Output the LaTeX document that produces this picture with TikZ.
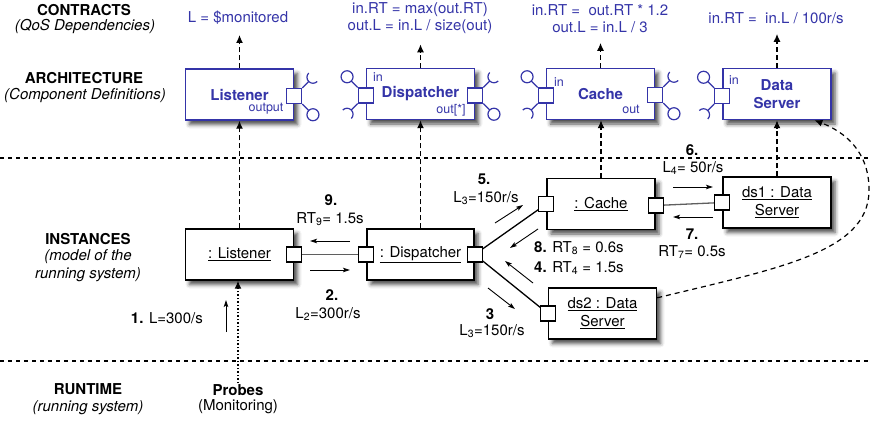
\documentclass[tikz,border=0pt]{standalone}
\usepackage{fontspec}
\setmainfont{TeX Gyre Heros}
\usetikzlibrary{arrows.meta,shadows.blur,backgrounds}
\definecolor{archblue}{RGB}{52,52,168}
\definecolor{linkgray}{RGB}{95,95,95}

% interface symbols hung on a port square: provided (ball) and required (socket)
\newcommand\provR[1]{\draw[iface] (#1.south east) -- ++(6.4,6.4) ++(4.24,4.24) circle[radius=6];}
\newcommand\provL[1]{\draw[iface] (#1.north west) -- ++(-6.4,-6.4) ++(-4.24,-4.24) circle[radius=6];}
\newcommand\reqR[1]{\draw[iface] (#1.north east) -- ++(6.4,-6.4) ++(8.49,0) arc[start angle=45,end angle=225,radius=6];}
\newcommand\reqL[1]{\draw[iface] (#1.south west) -- ++(-6.4,6.4) ++(-8.49,0) arc[start angle=225,end angle=405,radius=6];}

\begin{document}
\begin{tikzpicture}[x=1pt,y=-1pt,
  font=\fontsize{15}{18}\selectfont,
  txt/.style={inner sep=1pt, align=center},
  ctr/.style={txt, text=archblue, font=\fontsize{15}{17}\selectfont},
  small/.style={txt, text=archblue, font=\fontsize{12.5}{14}\selectfont},
  shad/.style={blur shadow={shadow xshift=4pt, shadow yshift=-4.5pt, shadow blur radius=4pt, shadow opacity=70}},
  archbox/.style={draw=archblue, text=archblue, font=\fontsize{15}{18}\selectfont\bfseries, align=center,
    line width=1.4pt, fill=white, minimum width=108pt, minimum height=51pt, inner sep=0pt, shad},
  instbox/.style={draw=black, line width=1.4pt, fill=white, align=center,
    minimum width=108pt, minimum height=51pt, inner sep=0pt, shad},
  port/.style={draw=black, fill=white, line width=1.2pt, minimum size=15pt, inner sep=0pt},
  archport/.style={port, draw=archblue},
  iface/.style={draw=archblue, line width=1.2pt},
  dep/.style={line width=1.4pt, dash pattern=on 5pt off 3pt, -{Latex[length=8pt,width=7pt]}},
  layer/.style={line width=1.8pt, dash pattern=on 3.5pt off 4.5pt},
  probe/.style={line width=1.4pt, dash pattern=on 1.5pt off 2pt, -{Latex[length=8pt,width=7pt]}},
  stepar/.style={line width=0.9pt, -{Stealth[length=7pt,width=4.5pt,inset=1.5pt]}},
  link/.style={line width=1.3pt},
]
\useasboundingbox (0,0) rectangle (870,421);

% layer separators
\draw[layer] (0,158) -- (870,158);
\draw[layer] (0,361) -- (870,361);

% layer titles
\node[txt] (tcon) at (84,10) {\bfseries CONTRACTS};
\node[txt] (tcon2) at (85,26) {\itshape (QoS Dependencies)};
\node[txt] (tarch) at (84,78) {\bfseries ARCHITECTURE};
\node[txt] (tarch2) at (85,95) {\itshape (Component Definitions)};
\node[txt] (tinst) at (88,239) {\bfseries INSTANCES};
\node[txt] (tinst2) at (88,257) {\itshape (model of the};
\node[txt] (tinst3) at (88,275) {\itshape running system)};
\node[txt] (trun) at (88,389) {\bfseries RUNTIME};
\node[txt] (trun2) at (88,408) {\itshape (running system)};

% contracts
\node[ctr] (clist) at (238,18) {L = \$monitored};
\node[ctr] (cdisp) at (420,18.5) {in.RT = max(out.RT)\\out.L = in.L / size(out)};
\node[ctr] (ccache) at (600,18.5) {in.RT = \ out.RT * 1.2\\out.L = in.L / 3};
\node[ctr] (cds) at (776,18) {in.RT = \ in.L / 100r/s};

% component definitions
\node[archbox] (alist) at (239.5,94.5) {Listener};
\node[archbox] (adisp) at (420.5,94) {Dispatcher};
\node[archbox] (acache) at (600.5,94) {Cache};
\node[archbox] (ads) at (777,94) {Data\\Server};

\node[small] (alistout) at (266,109) {output};
\node[small] (adispin) at (378,77) {in};
\node[small] (adispout) at (451,110) {out[*]};
\node[small] (acachein) at (559,82) {in};
\node[small] (acacheout) at (631,109) {out};
\node[small] (adsin) at (734,80) {in};

\node[archport] (alistp) at ([yshift=-1.5pt]alist.east) {};
\node[archport] (adispp1) at ([yshift=-1.5pt]adisp.west) {};
\node[archport] (adispp2) at ([yshift=-1.5pt]adisp.east) {};
\node[archport] (acachep1) at ([yshift=-1.5pt]acache.west) {};
\node[archport] (acachep2) at ([yshift=-1pt]acache.east) {};
\node[archport] (adsp) at ([yshift=-2pt]ads.west) {};

\reqR{alistp}\provR{alistp}
\provL{adispp1}\reqL{adispp1}
\reqR{adispp2}\provR{adispp2}
\provL{acachep1}\reqL{acachep1}
\reqR{acachep2}\provR{acachep2}
\provL{adsp}\reqL{adsp}

% instances
\node[instbox] (ilist) at (239.5,254.5) {\underline{: Listener}};
\node[instbox, minimum width=107pt] (idisp) at (420.5,254.5) {\underline{: Dispatcher}};
\node[instbox] (icache) at (601,204) {\underline{: Cache}};
\node[instbox] (ids1) at (777,202.5) {\underline{ds1 : Data}\\\underline{Server}};
\node[instbox] (ids2) at (602.5,313.5) {\underline{ds2 : Data}\\\underline{Server}};

\node[port] (ilistp) at (ilist.east) {};
\node[port] (idispp1) at (idisp.west) {};
\node[port] (idispp2) at (idisp.east) {};
\node[port] (icachep1) at (icache.west) {};
\node[port] (icachep2) at ([yshift=-1.5pt]icache.east) {};
\node[port] (ids1p) at (ids1.west) {};
\node[port] (ids2p) at (ids2.west) {};

\begin{scope}[on background layer]
  \draw[link, linkgray] (ilistp.center) -- (idispp1.center);
  \draw[link, linkgray] (icachep2.center) -- (ids1p.center);
  \draw[link] (idispp2.center) -- (icachep1.center);
  \draw[link] (idispp2.center) -- (ids2p.center);
\end{scope}

% instance -> definition -> contract dependencies
\draw[dep] (ilist.north) -- (ilist.north |- alist.south);
\draw[dep] (idisp.north) -- (idisp.north |- adisp.south);
\draw[dep] (icache.north) -- (icache.north |- acache.south);
\draw[dep] (ids1.north) -- (ids1.north |- ads.south);
\draw[dep, shorten >=9pt] (alist.north) -- (alist.north |- clist.south);
\draw[dep, shorten >=9pt] (adisp.north) -- (adisp.north |- cdisp.south);
\draw[dep, shorten >=9pt] (acache.north) -- (acache.north |- ccache.south);
\draw[dep, shorten >=9pt] (ads.north) -- (ads.north |- cds.south);
\draw[line width=1.2pt, dash pattern=on 5pt off 4pt, -{Latex[length=8pt,width=7pt]}]
  (ids2.16) .. controls (780,268) and (867,252) .. (869,192)
  .. controls (870,152) and (845,132) .. (ads.-35);

% monitoring probes
\node[txt] (probes) at (238,390) {\bfseries Probes};
\node[txt] (monit) at (238,407) {(Monitoring)};
\draw[probe] (probes.north) -- (probes.north |- ilist.south);

% message steps
\coordinate (a1s) at (226,332); \coordinate (a1e) at (226,300);
\coordinate (a2s) at (310,270); \coordinate (a2e) at (350,270);
\coordinate (a9s) at (350,241); \coordinate (a9e) at (310,241);
\coordinate (a5s) at (495,223); \coordinate (a5e) at (523,205);
\coordinate (a8s) at (538,229); \coordinate (a8e) at (510,248);
\coordinate (a4s) at (533,283); \coordinate (a4e) at (505,261);
\coordinate (a3s) at (488,288); \coordinate (a3e) at (515,309);
\coordinate (a6s) at (673,187); \coordinate (a6e) at (713,187);
\coordinate (a7s) at (713,217); \coordinate (a7e) at (673,217);
\foreach \n in {1,2,9,5,8,4,3,6,7} \draw[stepar] (a\n s) -- (a\n e);

\node[txt, anchor=east] (s1) at (204,318) {\textbf{1.} L=300/s};
\node[txt] (s2n) at (332,295) {\bfseries 2.};
\node[txt] (s2t) at (328,314) {L\textsubscript{2}=300r/s};
\node[txt] (s9n) at (331,200) {\bfseries 9.};
\node[txt] (s9t) at (330,219) {RT\textsubscript{9}= 1.5s};
\node[txt] (s5n) at (484,179) {\bfseries 5.};
\node[txt] (s5t) at (486,198) {L\textsubscript{3}=150r/s};
\node[txt, anchor=west] (s8) at (533,248) {\textbf{8.} RT\textsubscript{8} = 0.6s};
\node[txt, anchor=west] (s4) at (533,268) {\textbf{4.} RT\textsubscript{4} = 1.5s};
\node[txt] (s3n) at (490,314) {\bfseries 3};
\node[txt] (s3t) at (492,331) {L\textsubscript{3}=150r/s};
\node[txt] (s6n) at (692,150) {\bfseries 6.};
\node[txt] (s6t) at (693,168) {L\textsubscript{4}= 50r/s};
\node[txt] (s7n) at (692,234) {\bfseries 7.};
\node[txt] (s7t) at (692,252) {RT\textsubscript{7}= 0.5s};
\end{tikzpicture}
\end{document}
